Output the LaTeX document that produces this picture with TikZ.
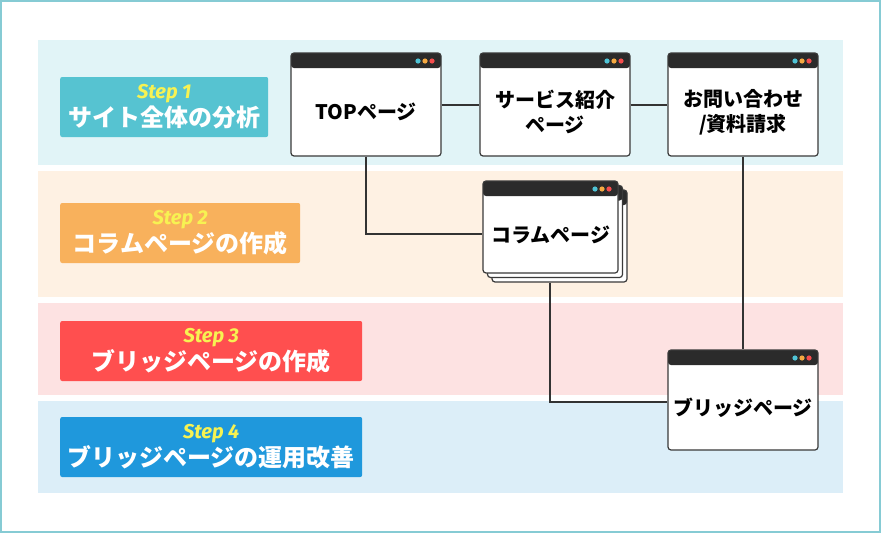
\documentclass[tikz,border=0pt]{standalone}
\usepackage{fontspec}
\setmainfont{Noto Sans CJK JP}
\newfontfamily\stepfont{Fira Sans}
\definecolor{frameline}{HTML}{86CBD4}
\definecolor{bandcyan}{HTML}{E1F4F7}
\definecolor{bandorange}{HTML}{FEF1E3}
\definecolor{bandpink}{HTML}{FDE2E2}
\definecolor{bandblue}{HTML}{DCEEF8}
\definecolor{stepcyan}{HTML}{56C3D1}
\definecolor{steporange}{HTML}{F8B15C}
\definecolor{stepred}{HTML}{FF4F4F}
\definecolor{stepblue}{HTML}{1F98DC}
\definecolor{stepyellow}{HTML}{F7F252}
\definecolor{winbar}{HTML}{2B2B2B}
\definecolor{winline}{HTML}{3A3A3A}
\definecolor{dotcyan}{HTML}{4FC3D5}
\definecolor{dotorange}{HTML}{F5A941}
\definecolor{dotred}{HTML}{F44D4D}
\definecolor{linkline}{HTML}{333333}
\newcommand{\steptag}[1]{{\stepfont\fontsize{20}{21}\selectfont\bfseries\itshape\color{stepyellow}#1}}

\begin{document}
\begin{tikzpicture}[x=1pt, y=-1pt,
	win/.style = {draw=winline, line width=1.2pt, fill=white, rounded corners=3pt,
		minimum width=150pt, minimum height=103pt, inner sep=0pt,
		path picture={
			\fill[winbar] (path picture bounding box.north west) rectangle ([yshift=-15pt]path picture bounding box.north east);
			\fill[dotcyan] ([xshift=-23pt,yshift=-8pt]path picture bounding box.north east) circle (2.6pt);
			\fill[dotorange] ([xshift=-16pt,yshift=-8pt]path picture bounding box.north east) circle (2.6pt);
			\fill[dotred] ([xshift=-9pt,yshift=-8pt]path picture bounding box.north east) circle (2.6pt);
		}},
	wintext/.style = {align=center, font=\fontsize{20}{25}\selectfont\bfseries, text=black, yshift=-7.5pt},
	steplabel/.style = {fill=#1, rounded corners=2pt, minimum height=60pt, inner sep=0pt,
		align=center, text=white, anchor=west, font=\fontsize{24}{28}\selectfont\bfseries},
	link/.style = {draw=linkline, line width=2pt}]
	\useasboundingbox (0,0) rectangle (881,533);
	\draw[frameline, line width=2pt] (1,1) rectangle (880,532);
	% bands
	\fill[bandcyan] (38,40) rectangle (843,165);
	\fill[bandorange] (38,171) rectangle (843,297);
	\fill[bandpink] (38,303) rectangle (843,395);
	\fill[bandblue] (38,401) rectangle (843,493);
	% steps
	\node[steplabel=stepcyan, minimum width=208pt] (s1) at (60,107) {\steptag{Step 1}\\[0pt]サイト全体の分析};
	\node[steplabel=steporange, minimum width=240pt] (s2) at (60,233) {\steptag{Step 2}\\[0pt]コラムページの作成};
	\node[steplabel=stepred, minimum width=302pt] (s3) at (60,351) {\steptag{Step 3}\\[0pt]ブリッジページの作成};
	\node[steplabel=stepblue, minimum width=302pt] (s4) at (60,447) {\steptag{Step 4}\\[0pt]ブリッジページの運用改善};
	% pages
	\node[win, label={[wintext]center:TOPページ}] (top) at (366,104.5) {};
	\node[win, label={[wintext]center:サービス紹介\\ページ}] (serv) at (555,104.5) {};
	\node[win, label={[wintext]center:お問い合わせ\\/資料請求}] (inq) at (743,104.5) {};
	\node[win, minimum width=135pt, minimum height=92pt] (col3) at (559.5,236) {};
	\node[win, minimum width=135pt, minimum height=92pt] (col2) at (555,231.5) {};
	\node[win, minimum width=135pt, minimum height=92pt, label={[wintext]center:コラムページ}] (col1) at (550.5,227) {};
	\node[win, minimum height=100pt, label={[wintext]center:ブリッジページ}] (brg) at (743,400) {};
	% links
	\draw[link] (top) -- (serv);
	\draw[link] (serv) -- (inq);
	\draw[link] (top.south) |- ([yshift=-7pt]col1.west);
	\draw[link] (inq.south) -- (brg.north);
	\draw[link] ([xshift=59pt]col3.south west) |- ([yshift=-2pt]brg.west);
\end{tikzpicture}
\end{document}
